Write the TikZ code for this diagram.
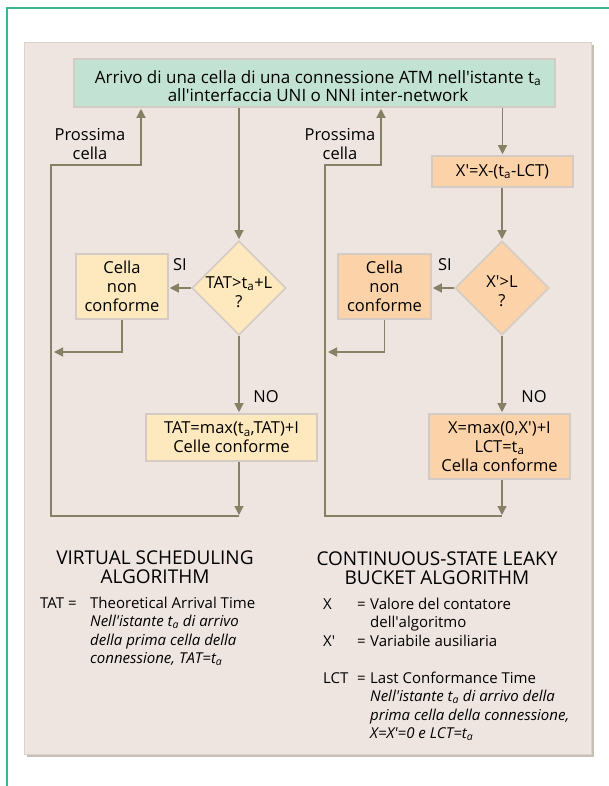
\documentclass[tikz,border=0pt]{standalone}
\usepackage{fontspec}
\setmainfont{Open Sans}
\usetikzlibrary{arrows.meta,shapes.geometric}
\definecolor{frame}{RGB}{60,185,140}
\definecolor{panel}{RGB}{238,229,225}
\definecolor{panelb}{RGB}{200,192,182}
\definecolor{mint}{RGB}{194,227,212}
\definecolor{yel}{RGB}{254,232,189}
\definecolor{ora}{RGB}{252,210,168}
\definecolor{lin}{RGB}{135,128,100}
\definecolor{bord}{RGB}{212,204,196}
\newcommand\apo{\textquotesingle}
\newcommand\dfont{\fontsize{16.5}{19}\selectfont}
\newcommand\tfont{\fontsize{17}{18}\selectfont}
\newcommand\lfont{\fontsize{15}{18.5}\selectfont}
\newcommand\hfont{\fontsize{19}{19}\selectfont}
\begin{document}
\begin{tikzpicture}[x=1pt,y=-1pt,
  box/.style={draw=bord,line width=1.6pt,inner sep=0pt,align=center,font=\dfont},
  ybox/.style={box,fill=yel},
  obox/.style={box,fill=ora},
  dia/.style={diamond,draw=bord,line width=1.6pt,inner sep=0pt,minimum width=94pt,minimum height=94pt},
  conn/.style={draw=lin,line width=1.3pt},
  arr/.style={conn,-{Triangle[length=9pt,width=9pt]},shorten >=1pt},
  lbl/.style={inner sep=0pt,font=\dfont,text=black,align=center}]
\useasboundingbox (0,0) rectangle (609,786);
\draw[draw=frame,line width=1.5pt] (609,8) -- (7,8) -- (7,786);
\fill[panelb] (27,45) rectangle (594,757);
\filldraw[fill=panel,draw=panelb!70,line width=0.6pt] (24,42) rectangle (591,754);
% top box
\node[box,fill=mint,minimum width=481pt,minimum height=48pt] (top) at (314.5,83) {};
\node[lbl,font=\tfont] (toptxt) at (318,86)
  {Arrivo di una cella di una connessione ATM nell\apo istante t\textsubscript{a}\\all\apo interfaccia UNI o NNI inter-network};
% left column
\node[dia,fill=yel] (lq) at (239,288) {};
\node[lbl] (lqt) at (239,292) {TAT>t\textsubscript{a}+L\\?};
\node[ybox,minimum width=92pt,minimum height=65pt] (ln) at (122,286.5) {Cella\\non\\conforme};
\node[ybox,minimum width=171pt,minimum height=47pt] (lr) at (231.5,437.5) {TAT=max(t\textsubscript{a},TAT)+I\\Celle conforme};
% right column
\node[obox,minimum width=141pt,minimum height=31pt] (rx) at (502.5,171.5) {X\apo=X-(t\textsubscript{a}-LCT)};
\node[dia,fill=ora] (rq) at (502,288) {};
\node[lbl] (rqt) at (502,291) {X\apo>L\\?};
\node[obox,minimum width=93pt,minimum height=65pt] (rn) at (384.5,286.5) {Cella\\non\\conforme};
\node[obox,minimum width=141pt,minimum height=65pt] (rr) at (499.5,446.5) {X=max(0,X\apo)+I\\LCT=t\textsubscript{a}\\Cella conforme};
% labels
\node[lbl] (lsi) at (180,265) {SI};
\node[lbl] (lno) at (266,397) {NO};
\node[lbl] (rsi) at (445,265) {SI};
\node[lbl] (rno) at (534,397) {NO};
\node[lbl] (lpc) at (90,144) {Prossima\\cella};
\node[lbl] (rpc) at (340,144) {Prossima\\cella};
% coordinates
\coordinate (lb) at (239,516);
\coordinate (lloopt) at (51,165);
\coordinate (lup) at (141,165);
\coordinate (lret) at (53,352);
\coordinate (rb) at (502,516);
\coordinate (rloopt) at (325,165);
\coordinate (rup) at (381,165);
\coordinate (rret) at (327,352);
% left connectors
\draw[arr] (top.south -| lq.north) -- (lq.north);
\draw[arr] (lq.west) -- (lq.west -| ln.east);
\draw[arr] (ln.south) |- (lret);
\draw[arr] (lq.south) -- (lq.south |- lr.north);
\draw[arr] (lr.south -| lq.south) -- (lb);
\draw[arr] (lb) -| (lloopt) -- (lup) -- (lup |- top.south);
% right connectors
\draw[arr] (top.south -| rx.north) -- (rx.north);
\draw[arr] (rx.south -| rq.north) -- (rq.north);
\draw[arr] (rq.west) -- (rq.west -| rn.east);
\draw[arr] (rn.south) |- (rret);
\draw[arr] (rq.south) -- (rq.south |- rr.north);
\draw[arr] (rr.south -| rq.south) -- (rb);
\draw[arr] (rb) -| (rloopt) -- (rup) -- (rup |- top.south);
% legends
\node[lbl,font=\hfont] (lt) at (155,567.5) {VIRTUAL SCHEDULING\\ALGORITHM};
\node[lbl,font=\hfont] (rt) at (437,568.5) {CONTINUOUS-STATE LEAKY\\BUCKET ALGORITHM};
\node[lbl,font=\lfont,anchor=base west,align=left] (ltab) at (40,608)
 {\begin{tabular}[t]{@{}p{50pt}@{}l@{}}
 TAT = & Theoretical Arrival Time\\
  & \textit{Nell\apo istante t\textsubscript{a} di arrivo}\\
  & \textit{della prima cella della}\\
  & \textit{connessione, TAT=t\textsubscript{a}}
 \end{tabular}};
\node[lbl,font=\lfont,anchor=base west,align=left] (rtab) at (323,609)
 {\begin{tabular}[t]{@{}p{34pt}@{}p{13pt}@{}l@{}}
 X & = & Valore del contatore\\
  & & dell\apo algoritmo\\
 X\apo & = & Variabile ausiliaria\\
  & & \\
 LCT & = & Last Conformance Time\\
  & & \textit{Nell\apo istante t\textsubscript{a} di arrivo della}\\
  & & \textit{prima cella della connessione,}\\
  & & \textit{X=X\apo=0 e LCT=t\textsubscript{a}}
 \end{tabular}};
\end{tikzpicture}
\end{document}
